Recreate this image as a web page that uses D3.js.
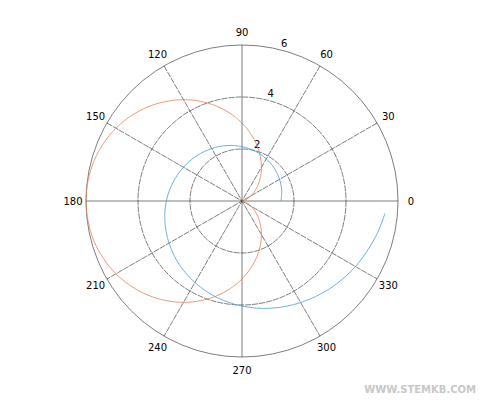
<!DOCTYPE html>
<html>
<head>
<meta charset="utf-8">
<script src="https://cdn.jsdelivr.net/npm/d3@7"></script>
<style>
  body { margin: 0; background: #fff; }
  text { font-family: "DejaVu Sans", sans-serif; font-size: 10px; fill: #000; }
</style>
</head>
<body>
<svg id="chart" width="494" height="403"></svg>
<script>
// cardioid values, every 15 degrees
const cardAngles = [0,15,30,45,60,75,90,105,120,135,150,165,180,195,210,225,240,255,270,285,300,315,330,345,360];
const cardR = [0,0.10,0.40,0.88,1.5,2.22,3,3.78,4.5,5.12,5.6,5.9,6,5.9,5.6,5.12,4.5,3.78,3,2.22,1.5,0.88,0.40,0.10,0];

// spiral values
const spirAngles = [0,15,30,45,60,75,90,105,120,135,150,165,180,195,210,225,240,255,270,285,300,315,330,345,355];
const spirR = [1.5,1.58,1.67,1.77,1.87,1.98,2.09,2.21,2.33,2.46,2.6,2.75,2.91,3.07,3.24,3.43,3.62,3.83,4.04,4.27,4.51,4.77,5.04,5.32,5.52];

const rTicks = [2, 4, 6];
const angleTicks = [0,30,60,90,120,150,180,210,240,270,300,330];

const cx = 242, cy = 201, R = 156;
const svg = d3.select("#chart");
const g = svg.append("g").attr("transform", `translate(${cx},${cy})`);
const r = d3.scaleLinear().domain([0, 6]).range([0, R]);
const rad = d => d * Math.PI / 180;

// grid circles
g.selectAll(".ring").data(rTicks).join("circle")
  .attr("r", d => r(d)).attr("fill", "none")
  .attr("stroke", "#262626").attr("stroke-width", 0.6)
  .attr("stroke-dasharray", d => d === 6 ? null : "6,1");

// spokes (full diameters)
g.selectAll(".spoke").data(angleTicks.filter(a => a < 180)).join("line")
  .attr("x1", a => r(6) * Math.cos(rad(a))).attr("y1", a => -r(6) * Math.sin(rad(a)))
  .attr("x2", a => -r(6) * Math.cos(rad(a))).attr("y2", a => r(6) * Math.sin(rad(a)))
  .attr("stroke", "#262626").attr("stroke-width", 0.6)
  .attr("stroke-dasharray", a => (a === 0 || a === 90) ? null : "6,1");

// angle labels
g.selectAll(".alab").data(angleTicks).join("text")
  .attr("x", a => (R + 13) * Math.cos(rad(a)))
  .attr("y", a => -(R + 13) * Math.sin(rad(a)))
  .attr("text-anchor", "middle").attr("dominant-baseline", "central")
  .text(a => a);

// radius labels
g.selectAll(".rlab").data(rTicks).join("text")
  .attr("x", d => (r(d) + 7) * Math.cos(rad(75)))
  .attr("y", d => -(r(d) + 7) * Math.sin(rad(75)))
  .attr("text-anchor", "middle").attr("dominant-baseline", "central")
  .text(d => d);

const line = d3.lineRadial()
  .angle(d => rad(90 - d[0]))
  .radius(d => r(d[1]))
  .curve(d3.curveCatmullRom);

g.append("path").datum(d3.zip(cardAngles, cardR))
  .attr("d", line).attr("fill", "none")
  .attr("stroke", "#e8825a").attr("stroke-width", 0.8);

g.append("path").datum(d3.zip(spirAngles, spirR))
  .attr("d", line).attr("fill", "none")
  .attr("stroke", "#4a9fd4").attr("stroke-width", 0.8);

svg.append("text").attr("x", 476).attr("y", 393).attr("text-anchor", "end")
  .style("font-weight", "bold").style("fill", "#c8c8c8").style("font-size", "10px")
  .text("WWW.STEMKB.COM");
</script>
</body>
</html>
